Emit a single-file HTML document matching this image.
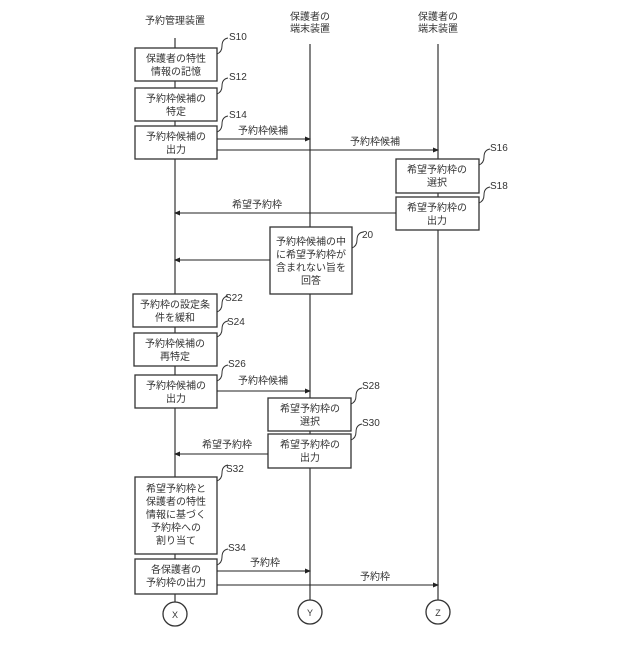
<!DOCTYPE html>
<html><head><meta charset="utf-8"><style>
body{margin:0;background:#fff}
svg text{font-family:"Liberation Sans","Noto Sans CJK JP",sans-serif;fill:#333}
</style></head><body>
<svg width="640" height="640" viewBox="0 0 640 640" xmlns="http://www.w3.org/2000/svg">
<defs><marker id="a" markerWidth="6" markerHeight="6" refX="5" refY="3" orient="auto"><path d="M0,0.5 L6,3 L0,5.5z" fill="#222"/></marker></defs>
<g font-size="10" text-anchor="middle">
<text x="175" y="24">予約管理装置</text>
<text x="310" y="20">保護者の</text><text x="310" y="32">端末装置</text>
<text x="438" y="20">保護者の</text><text x="438" y="32">端末装置</text>
</g>
<g stroke="#333" stroke-width="1.2" fill="none">
<line x1="175" y1="38" x2="175" y2="602"/>
<line x1="310" y1="44" x2="310" y2="600"/>
<line x1="438" y1="44" x2="438" y2="600"/>
</g>
<g stroke="#333" stroke-width="1.3" fill="#fff">
<rect x="135" y="48" width="82" height="33"/>
<rect x="135" y="88" width="82" height="33"/>
<rect x="135" y="126" width="82" height="33"/>
<rect x="396" y="159" width="83" height="34"/>
<rect x="396" y="197" width="83" height="33"/>
<rect x="270" y="227" width="82" height="67"/>
<rect x="133" y="294" width="84" height="33"/>
<rect x="134" y="333" width="83" height="33"/>
<rect x="135" y="375" width="82" height="33"/>
<rect x="268" y="398" width="83" height="33"/>
<rect x="268" y="434" width="83" height="34"/>
<rect x="135" y="477" width="82" height="77"/>
<rect x="135" y="559" width="82" height="35"/>
<circle cx="175" cy="614" r="12"/>
<circle cx="310" cy="612" r="12"/>
<circle cx="438" cy="612" r="12"/>
</g>
<g stroke="#222" stroke-width="1" marker-end="url(#a)">
<line x1="217" y1="139" x2="310" y2="139"/>
<line x1="217" y1="150" x2="438" y2="150"/>
<line x1="396" y1="213" x2="175" y2="213"/>
<line x1="270" y1="260" x2="175" y2="260"/>
<line x1="217" y1="391" x2="310" y2="391"/>
<line x1="268" y1="454" x2="175" y2="454"/>
<line x1="217" y1="571" x2="310" y2="571"/>
<line x1="217" y1="585" x2="438" y2="585"/>
</g>
<g stroke="#333" stroke-width="1" fill="none">
<path d="M217,54 q5,-2 5,-8 q0,-7 6,-8"/>
<path d="M217,94 q5,-2 5,-8 q0,-7 6,-8"/>
<path d="M217,132 q5,-2 5,-8 q0,-7 6,-8"/>
<path d="M479,165 q5,-2 5,-8 q0,-7 6,-8"/>
<path d="M479,203 q5,-2 5,-8 q0,-7 6,-8"/>
<path d="M352,248 q5,-2 5,-8 q0,-7 6,-8"/>
<path d="M217,312 q5,-2 5,-8 q0,-7 6,-8"/>
<path d="M217,337 q5,-2 5,-8 q0,-7 6,-8"/>
<path d="M217,381 q5,-2 5,-8 q0,-7 6,-8"/>
<path d="M351,404 q5,-2 5,-8 q0,-7 6,-8"/>
<path d="M351,440 q5,-2 5,-8 q0,-7 6,-8"/>
<path d="M217,481 q5,-2 5,-8 q0,-7 6,-8"/>
<path d="M217,565 q5,-2 5,-8 q0,-7 6,-8"/>
</g>
<g font-size="10">
<text x="229" y="40">S10</text><text x="229" y="80">S12</text><text x="229" y="118">S14</text>
<text x="490" y="151">S16</text><text x="490" y="189">S18</text><text x="362" y="238">20</text>
<text x="225" y="301">S22</text><text x="227" y="325">S24</text><text x="228" y="367">S26</text>
<text x="362" y="389">S28</text><text x="362" y="426">S30</text><text x="226" y="472">S32</text><text x="228" y="551">S34</text>
</g>
<g font-size="10" text-anchor="middle">
<text x="176" y="62">保護者の特性</text><text x="176" y="75">情報の記憶</text>
<text x="176" y="102">予約枠候補の</text><text x="176" y="115">特定</text>
<text x="176" y="140">予約枠候補の</text><text x="176" y="153">出力</text>
<text x="437" y="173">希望予約枠の</text><text x="437" y="186">選択</text>
<text x="437" y="211">希望予約枠の</text><text x="437" y="224">出力</text>
<text x="311" y="245">予約枠候補の中</text><text x="311" y="258">に希望予約枠が</text><text x="311" y="271">含まれない旨を</text><text x="311" y="284">回答</text>
<text x="175" y="308">予約枠の設定条</text><text x="175" y="321">件を緩和</text>
<text x="175" y="347">予約枠候補の</text><text x="175" y="360">再特定</text>
<text x="176" y="389">予約枠候補の</text><text x="176" y="402">出力</text>
<text x="310" y="412">希望予約枠の</text><text x="310" y="425">選択</text>
<text x="310" y="448">希望予約枠の</text><text x="310" y="461">出力</text>
<text x="176" y="492">希望予約枠と</text><text x="176" y="505">保護者の特性</text><text x="176" y="518">情報に基づく</text><text x="176" y="531">予約枠への</text><text x="176" y="544">割り当て</text>
<text x="176" y="573">各保護者の</text><text x="176" y="586">予約枠の出力</text>
<text x="263" y="134">予約枠候補</text>
<text x="375" y="145">予約枠候補</text>
<text x="257" y="208">希望予約枠</text>
<text x="263" y="384">予約枠候補</text>
<text x="227" y="448">希望予約枠</text>
<text x="265" y="566">予約枠</text>
<text x="375" y="580">予約枠</text>
<text x="175" y="618" font-size="9">X</text>
<text x="310" y="616" font-size="9">Y</text>
<text x="438" y="616" font-size="9">Z</text>
</g>
</svg>
</body></html>
